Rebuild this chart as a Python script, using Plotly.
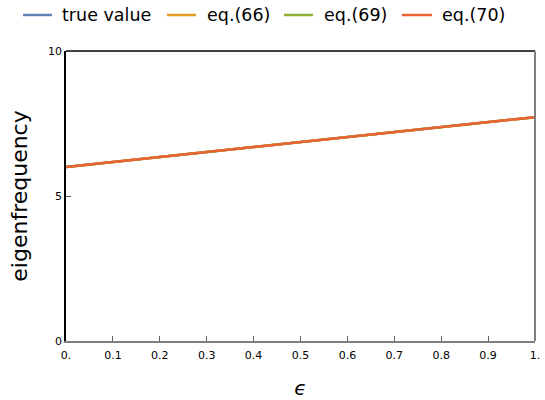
import plotly.graph_objects as go

eps = [0.0, 0.1, 0.2, 0.3, 0.4, 0.5, 0.6, 0.7, 0.8, 0.9, 1.0]
true_value = [6.00, 6.17, 6.34, 6.51, 6.68, 6.85, 7.02, 7.19, 7.37, 7.54, 7.72]
eq66 = [6.00, 6.17, 6.34, 6.51, 6.68, 6.85, 7.02, 7.19, 7.37, 7.54, 7.72]
eq69 = [6.00, 6.17, 6.34, 6.51, 6.68, 6.85, 7.02, 7.19, 7.37, 7.54, 7.72]
eq70 = [6.00, 6.17, 6.34, 6.51, 6.68, 6.85, 7.02, 7.19, 7.37, 7.54, 7.72]

x_tickvals = [0, 0.1, 0.2, 0.3, 0.4, 0.5, 0.6, 0.7, 0.8, 0.9, 1.0]
x_ticktext = ["0.", "0.1", "0.2", "0.3", "0.4", "0.5", "0.6", "0.7", "0.8", "0.9", "1."]
y_tickvals = [0, 5, 10]
y_ticktext = ["0", "5", "10"]

series_names = ["true value", "eq.(66)", "eq.(69)", "eq.(70)"]
series_values = [true_value, eq66, eq69, eq70]
series_colors = ["#5E81B5", "#E19C24", "#8FB032", "#EB6235"]

W, H = 545, 400
ML, MR, MT, MB = 66, 10, 51, 59
PW, PH = W - ML - MR, H - MT - MB


def px_x(px):
    return (px - ML) / PW


def px_y(py):
    return (H - MB - py) / PH


fig = go.Figure()
for name, ys, color in zip(series_names, series_values, series_colors):
    fig.add_trace(go.Scatter(x=eps, y=ys, mode="lines", name=name,
                             line=dict(color=color, width=2.5), showlegend=False))

fig.update_layout(
    width=W, height=H,
    margin=dict(l=ML, r=MR, t=MT, b=MB, autoexpand=False),
    paper_bgcolor="white", plot_bgcolor="white",
    font=dict(family="DejaVu Sans", color="black"),
    showlegend=False,
)

fig.update_xaxes(range=[0, 1], tickvals=x_tickvals, ticktext=x_ticktext,
                 automargin=False,
                 showgrid=False, zeroline=False, showline=True, linecolor="#808080",
                 linewidth=1.5, ticks="inside", ticklen=5, tickcolor="#606060",
                 tickfont=dict(size=11), ticklabelstandoff=3,
                 title=dict(text="<i>ϵ</i>", font=dict(size=20), standoff=20))
fig.update_yaxes(range=[0, 10], tickvals=y_tickvals, ticktext=y_ticktext,
                 automargin=False,
                 showgrid=False, zeroline=False, showline=True, linecolor="black",
                 linewidth=1.5, ticks="inside", ticklen=5, tickcolor="#606060",
                 tickfont=dict(size=11),
                 title=dict(text="eigenfrequency", font=dict(size=22), standoff=14))

# frame: top (black) and right (gray)
fig.add_shape(type="line", xref="paper", yref="paper", x0=0, x1=1, y0=1, y1=1,
              line=dict(color="black", width=1.5))
fig.add_shape(type="line", xref="paper", yref="paper", x0=1, x1=1, y0=0, y1=1,
              line=dict(color="#808080", width=2))

# legend (drawn manually to match the reference spacing)
leg_line_px = [(23, 52), (167, 196), (284, 313), (402, 432)]
leg_text_px = [60, 205, 322, 440]
leg_y = 15
for name, color, (a, b), t in zip(series_names, series_colors, leg_line_px, leg_text_px):
    fig.add_shape(type="line", xref="paper", yref="paper",
                  x0=px_x(a), x1=px_x(b), y0=px_y(leg_y), y1=px_y(leg_y),
                  line=dict(color=color, width=2.5))
    fig.add_annotation(xref="paper", yref="paper", x=px_x(t), y=px_y(leg_y),
                       xanchor="left", yanchor="middle", showarrow=False,
                       text=name, font=dict(size=17.5, color="black"))

fig.write_html("out.html", config={"displayModeBar": False},
               post_script="document.body.style.margin='0';")
